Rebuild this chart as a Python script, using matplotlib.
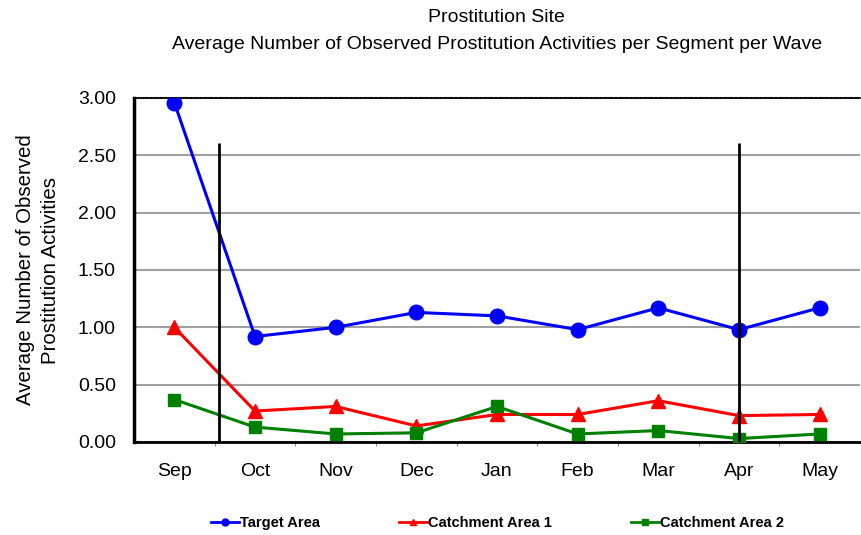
import matplotlib.pyplot as plt
from matplotlib.lines import Line2D

plt.rcParams["font.family"] = ["Liberation Sans", "DejaVu Sans"]

months = ["Sep", "Oct", "Nov", "Dec", "Jan", "Feb", "Mar", "Apr", "May"]
target_area = [2.96, 0.92, 1.00, 1.13, 1.10, 0.98, 1.17, 0.98, 1.17]
catchment_1 = [1.00, 0.27, 0.31, 0.14, 0.24, 0.24, 0.36, 0.23, 0.24]
catchment_2 = [0.37, 0.13, 0.07, 0.08, 0.31, 0.07, 0.10, 0.03, 0.07]

# intervention markers (x position in category units, top of line)
event_x = [0.55, 7.0]
event_top = 2.61

fig = plt.figure(figsize=(8.61, 5.35), dpi=100)
ax = fig.add_axes([134 / 861, 1 - 442 / 535, 726 / 861, 344 / 535])

x = list(range(len(months)))
ax.plot(x, target_area, color="blue", marker="o", markersize=10.5, linewidth=2.2,
        label="Target Area", zorder=4)
ax.plot(x, catchment_1, color="red", marker="^", markersize=10, linewidth=2.2,
        label="Catchment Area 1", zorder=3)
ax.plot(x, catchment_2, color="green", marker="s", markersize=9, linewidth=2.2,
        label="Catchment Area 2", zorder=5)

for ex in event_x:
    ax.vlines(ex, 0, event_top, color="black", linewidth=2, zorder=6)

ax.set_xlim(-0.5, len(months) - 0.5)
ax.set_ylim(0, 3.0)
ax.set_yticks([0, 0.5, 1.0, 1.5, 2.0, 2.5, 3.0])
ax.set_yticklabels([f"{v:.2f}" for v in ax.get_yticks()], fontsize=14)
ax.set_xticks(x)
ax.set_xticklabels(months, fontsize=14)
ax.set_xticks([i + 0.5 for i in x[:-1]], minor=True)
ax.tick_params(axis="x", which="major", length=0, pad=15)
ax.tick_params(axis="x", which="minor", length=3, width=0.8, color="#888888")
ax.tick_params(axis="y", length=0, pad=13)

ax.grid(axis="y", color="#a0a0a0", linewidth=1.5, zorder=0)
ax.set_axisbelow(True)

ax.spines["right"].set_visible(False)
ax.spines["left"].set_linewidth(2.5)
ax.spines["bottom"].set_linewidth(2)
ax.spines["top"].set_linewidth(1.2)
ax.spines["top"].set_linestyle((0, (1, 0.5)))

ax.set_ylabel("Average Number of Observed\nProstitution Activities", fontsize=14.7,
              labelpad=13, linespacing=1.4)

fig.text(0.577, 0.967, "Prostitution Site", ha="center", va="center", fontsize=14)
fig.text(0.577, 0.917, "Average Number of Observed Prostitution Activities per Segment per Wave",
         ha="center", va="center", fontsize=14)

handles = [
    Line2D([], [], color="blue", marker="o", markersize=5, linewidth=2),
    Line2D([], [], color="red", marker="^", markersize=5, linewidth=2),
    Line2D([], [], color="green", marker="s", markersize=5, linewidth=2),
]
fig.legend(handles, ["Target Area", "Catchment Area 1", "Catchment Area 2"],
           loc="center", bbox_to_anchor=(0.578, 0.022), ncol=3, frameon=False,
           prop={"size": 10.5, "weight": "bold"}, handlelength=1.9, handletextpad=0.1,
           columnspacing=5.4)

fig.savefig("out.png", dpi=100)
